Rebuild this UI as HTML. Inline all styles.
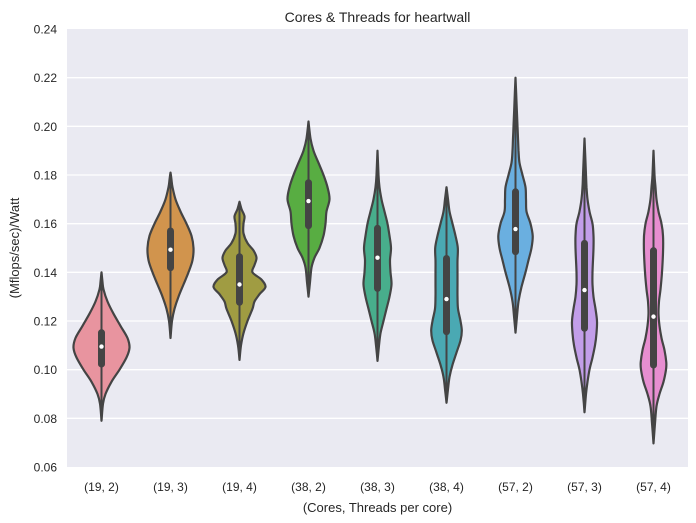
<!DOCTYPE html>
<html><head><meta charset="utf-8"><style>
body{margin:0;background:#fff;}
svg{display:block;font-family:"Liberation Sans","DejaVu Sans",sans-serif;}
</style></head><body>
<svg id="chart" width="696" height="523">
<rect x="67" y="29" width="621" height="438" fill="#eaeaf2"/>
<g id="grid"></g><g id="violins"></g><g id="axes"></g>
<text x="377.5" y="22" text-anchor="middle" font-size="14" fill="#262626">Cores &amp; Threads for heartwall</text>
<text x="377.5" y="512" text-anchor="middle" font-size="13" fill="#262626">(Cores, Threads per core)</text>
<text transform="translate(19,248) rotate(-90)" text-anchor="middle" font-size="13" fill="#262626">(Mflops/sec)/Watt</text>
</svg>
<script>
const categories=["(19, 2)","(19, 3)","(19, 4)","(38, 2)","(38, 3)","(38, 4)","(57, 2)","(57, 3)","(57, 4)"];
const yTicks=[0.06,0.08,0.10,0.12,0.14,0.16,0.18,0.20,0.22,0.24];
const medians=[0.1095,0.1493,0.135,0.1693,0.146,0.129,0.1578,0.1327,0.1218];
const q1s=[0.1023,0.1419,0.1277,0.1592,0.1334,0.1156,0.1485,0.117,0.1019];
const q3s=[0.1152,0.157,0.1464,0.1768,0.1581,0.1457,0.1731,0.1519,0.1489];
const whiskLo=[0.0795,0.1135,0.1048,0.1305,0.104,0.087,0.1157,0.083,0.0702];
const whiskHi=[0.1395,0.1805,0.169,0.2015,0.1898,0.1748,0.2198,0.1947,0.1892];
const profVals=[
[0.079,0.086,0.09,0.095,0.1,0.105,0.109,0.113,0.118,0.123,0.128,0.133,0.136,0.14],
[0.113,0.12,0.125,0.13,0.135,0.14,0.145,0.15,0.155,0.16,0.165,0.17,0.175,0.178,0.181],
[0.104,0.11,0.115,0.12,0.125,0.128,0.131,0.134,0.137,0.14,0.143,0.146,0.149,0.152,0.156,0.16,0.163,0.166,0.169],
[0.13,0.136,0.142,0.146,0.15,0.155,0.16,0.165,0.17,0.175,0.18,0.185,0.19,0.195,0.202],
[0.1036,0.11,0.115,0.12,0.125,0.13,0.135,0.14,0.145,0.15,0.155,0.16,0.165,0.17,0.175,0.18,0.19],
[0.0864,0.092,0.097,0.102,0.107,0.112,0.116,0.12,0.125,0.13,0.135,0.14,0.145,0.15,0.155,0.16,0.165,0.17,0.175],
[0.1152,0.122,0.128,0.134,0.14,0.145,0.15,0.155,0.16,0.165,0.17,0.175,0.18,0.185,0.19,0.195,0.2,0.21,0.22],
[0.0825,0.09,0.095,0.1,0.105,0.11,0.115,0.12,0.125,0.13,0.135,0.14,0.145,0.15,0.155,0.16,0.165,0.17,0.175,0.18,0.195],
[0.0697,0.078,0.085,0.09,0.095,0.1,0.103,0.108,0.113,0.118,0.123,0.128,0.133,0.14,0.148,0.155,0.16,0.165,0.17,0.175,0.18,0.19]];
const profDens=[
[0,1.5,4,10,18,25,28,26,19,12,6,2,1,0],
[0,1.5,4,8,13,18,22,23,21,16,10,5,2,1,0],
[0,1.5,4,8,13,15,20,26,22,13,15,17,14,8,4,4,5,2,0],
[0,1.5,3,6,11,15,17,18,21,19,15,10,5,2,0],
[0,1.5,3,6,9,12,14,13,12.5,13.5,12,10,7,4,2,1,0],
[0,1.5,3,6,10,14,15.3,14,11.5,11,11,11,11,11.3,9,6,3,1.5,0],
[0,1.5,3,6,10,13,16,17.2,15,11,10.5,10,7,4,3,2.5,2,1,0],
[0,1.5,3,5,8,10.5,12,12.5,11,9,8,8,8.5,9,9,8,5,3,2,1.5,0],
[0,1.5,3,6,10,12.5,12.8,11,8,6,5,5.5,7,8.5,9.5,9.5,8,5,3,2,1,0]];
const colors=["#e8949f","#d1944d","#a09c42","#58ad42","#48ae8c","#4aa9b3","#6aafe0","#c29ee9","#e78ed0"];
const L=67,R=688,T=29,B=467,ymin=0.06,ymax=0.24;
const yS=v=>B-(v-ymin)/(ymax-ymin)*(B-T);
const bw=(R-L)/categories.length;
const xS=i=>L+bw*(i+0.5);
const NS="http://www.w3.org/2000/svg";
function mk(t,a,p){const e=document.createElementNS(NS,t);for(const k in a)e.setAttribute(k,a[k]);p.appendChild(e);return e;}
const grid=document.getElementById('grid'),ax=document.getElementById('axes'),vg=document.getElementById('violins');
yTicks.forEach(t=>{
 if(t>ymin&&t<ymax){const g=mk('line',{x1:L,x2:R,y1:yS(t),y2:yS(t),stroke:'#fff','stroke-width':1.3},grid);
 
 }
 const tx=mk('text',{x:57,y:yS(t)+4.5,'text-anchor':'end','font-size':12,fill:'#262626'},ax);
 tx.textContent=t.toFixed(2);
 
 
});
categories.forEach((c,i)=>{
 const tx=mk('text',{x:xS(i),y:491,'text-anchor':'middle','font-size':12,fill:'#262626'},ax);
 tx.textContent=c;
 
 
});
function smooth(pts){let d='M'+pts[0][0]+','+pts[0][1];
 for(let i=0;i<pts.length-1;i++){const p0=pts[Math.max(i-1,0)],p1=pts[i],p2=pts[i+1],p3=pts[Math.min(i+2,pts.length-1)];
 const c1=[p1[0]+(p2[0]-p0[0])/6,p1[1]+(p2[1]-p0[1])/6],c2=[p2[0]-(p3[0]-p1[0])/6,p2[1]-(p3[1]-p1[1])/6];
 d+='C'+c1[0].toFixed(1)+','+c1[1].toFixed(1)+' '+c2[0].toFixed(1)+','+c2[1].toFixed(1)+' '+p2[0].toFixed(1)+','+p2[1].toFixed(1);}
 return d;}
categories.forEach((c,i)=>{
 const cx=xS(i),vals=profVals[i],dens=profDens[i];
 const right=vals.map((v,j)=>[cx+dens[j],yS(v)]);
 const left=vals.map((v,j)=>[cx-dens[j],yS(v)]).reverse();
 const d=smooth(right)+' '+smooth(left).replace('M','L')+'Z';
 const g=mk('g',{},vg);
 
 
 const p=mk('path',{d:d,fill:colors[i],stroke:'#444','stroke-width':2.2,'stroke-linejoin':'round'},g);
 
 
 const w=mk('line',{x1:cx,x2:cx,y1:yS(whiskLo[i]),y2:yS(whiskHi[i]),stroke:'#444','stroke-width':2},g);
 
 
 const b=mk('line',{x1:cx,x2:cx,y1:yS(q1s[i]),y2:yS(q3s[i]),stroke:'#444','stroke-width':7,'stroke-linecap':'round'},g);
 
 
 const m=mk('circle',{cx:cx,cy:yS(medians[i]),r:2.2,fill:'#fff'},g);
 
 
});
</script>
</body></html>
